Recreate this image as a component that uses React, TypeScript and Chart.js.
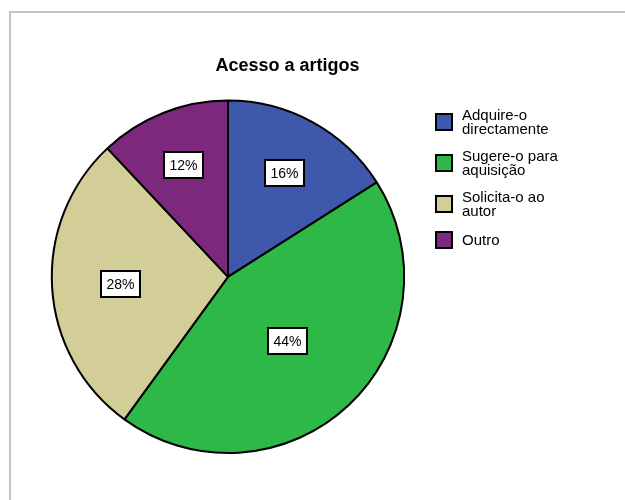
import React, { useEffect, useRef } from 'react';
import { Chart, registerables, layouts } from 'chart.js';

Chart.register(...registerables);

const chartTitle = 'Acesso a artigos';
const categories = ['Adquire-o directamente', 'Sugere-o para aquisição', 'Solicita-o ao autor', 'Outro'];
const legendLines = [['Adquire-o', 'directamente'], ['Sugere-o para', 'aquisição'], ['Solicita-o ao', 'autor'], ['Outro']];
const values = [16, 44, 28, 12];
const colors = ['#3E58AC', '#2EB848', '#D3CE97', '#7C287D'];

const FONT = '"Liberation Sans", Arial, Helvetica, sans-serif';
const LEGEND_SPACE = 119;

// reserves room on the right of the plot for the HTML legend (title stays full width)
const reserveRight = {
  id: 'reserveRight',
  beforeInit(chart: any) {
    const box: any = {
      position: 'right',
      weight: 500,
      fullSize: false,
      options: {},
      width: 0,
      height: 0,
      left: 0,
      top: 0,
      right: 0,
      bottom: 0,
      isHorizontal() {
        return false;
      },
      update(maxWidth: number, maxHeight: number) {
        this.width = LEGEND_SPACE;
        this.height = maxHeight;
      },
      draw() {},
    };
    layouts.addBox(chart, box);
  },
};

const pctBoxes = {
  id: 'pctBoxes',
  afterDatasetsDraw(chart: any) {
    const ctx = chart.ctx;
    const meta = chart.getDatasetMeta(0);
    const data = chart.data.datasets[0].data as number[];
    const total = data.reduce((a, b) => a + b, 0);
    ctx.save();
    ctx.font = `14px ${FONT}`;
    meta.data.forEach((arc: any, i: number) => {
      const p = arc.getProps(['x', 'y', 'startAngle', 'endAngle', 'outerRadius'], true);
      const a = p.endAngle - p.startAngle;
      const mid = p.startAngle + a / 2;
      const d = (1.05 * 4 * p.outerRadius * Math.sin(a / 2)) / (3 * a);
      const cx = p.x + Math.cos(mid) * d;
      const cy = p.y + Math.sin(mid) * d;
      const text = Math.round((data[i] / total) * 100) + '%';
      const tw = ctx.measureText(text).width;
      const w = Math.round(tw + 11);
      const h = 26;
      const left = Math.round(cx - w / 2);
      const top = Math.round(cy - h / 2);
      ctx.fillStyle = '#ffffff';
      ctx.fillRect(left, top, w, h);
      ctx.lineWidth = 2;
      ctx.strokeStyle = '#000000';
      ctx.strokeRect(left, top, w, h);
      ctx.fillStyle = '#000000';
      ctx.textAlign = 'center';
      ctx.textBaseline = 'middle';
      ctx.fillText(text, left + w / 2, top + h / 2 + 1);
    });
    ctx.restore();
  },
};

export default function App() {
  const canvasRef = useRef<HTMLCanvasElement | null>(null);

  useEffect(() => {
    if (!canvasRef.current) return;
    const chart = new Chart(canvasRef.current, {
      type: 'pie',
      data: {
        labels: categories,
        datasets: [
          {
            data: values,
            backgroundColor: colors,
            borderColor: '#000000',
            borderWidth: 2,
          },
        ],
      },
      options: {
        responsive: false,
        animation: false,
        layout: { padding: { left: 0, right: 0, top: 0, bottom: 46 } },
        plugins: {
          legend: { display: false },
          tooltip: { enabled: false },
          title: {
            display: true,
            text: chartTitle,
            color: '#000000',
            font: { family: FONT, size: 18, weight: 'bold' },
            padding: { top: 55, bottom: 23 },
          },
        },
      },
      plugins: [reserveRight, pctBoxes],
    } as any);
    return () => chart.destroy();
  }, []);

  return (
    <div style={{ position: 'absolute', left: 0, top: 0, width: 625, height: 500, background: '#fff', overflow: 'hidden' }}>
      <div
        style={{
          position: 'absolute',
          left: 9,
          top: 11,
          right: -10,
          bottom: -10,
          borderTop: '2px solid #c4c4c4',
          borderLeft: '2px solid #c4c4c4',
        }}
      />
      <canvas ref={canvasRef} width={575} height={500} style={{ position: 'absolute', left: 0, top: 0 }} />
      <div style={{ position: 'absolute', left: 435, top: 108, fontFamily: FONT, fontSize: 15, lineHeight: '14px', color: '#000' }}>
        {legendLines.map((lines, i) => (
          <div key={i} style={{ display: 'flex', alignItems: 'center', marginBottom: 13 }}>
            <div
              style={{
                width: 18,
                height: 18,
                boxSizing: 'border-box',
                border: '2px solid #000',
                background: colors[i],
                flex: '0 0 auto',
              }}
            />
            <div style={{ marginLeft: 9 }}>
              {lines.map((l, j) => (
                <div key={j}>{l}</div>
              ))}
            </div>
          </div>
        ))}
      </div>
    </div>
  );
}
